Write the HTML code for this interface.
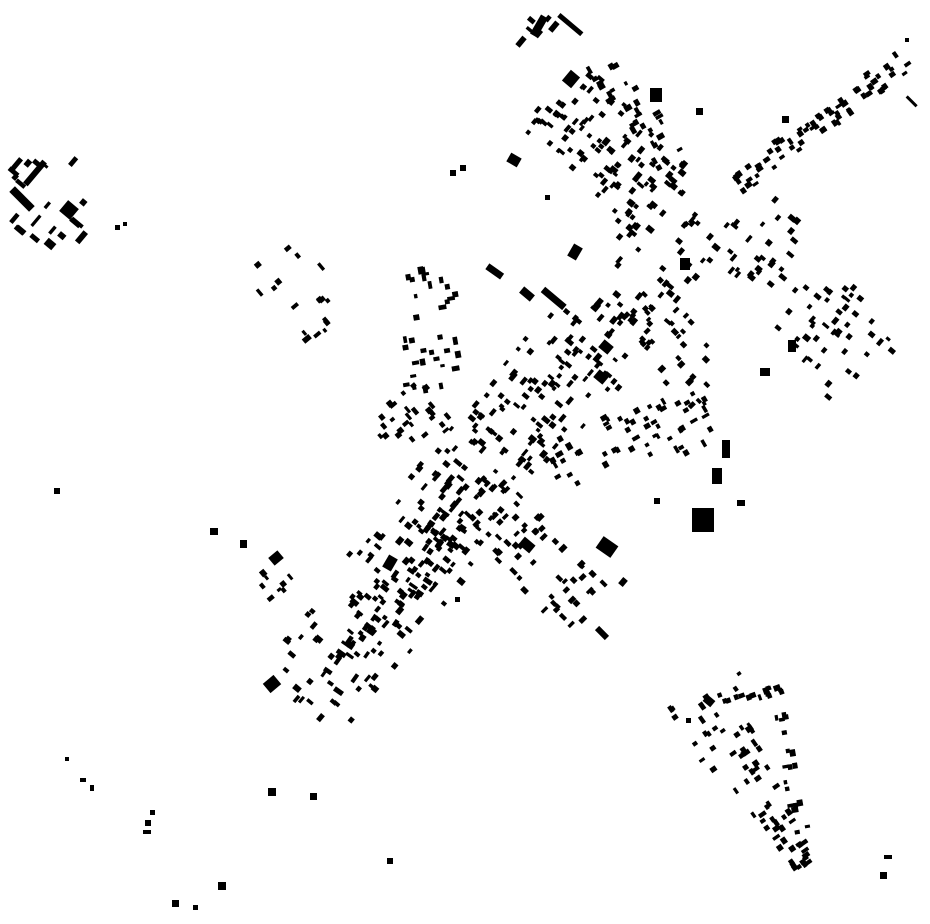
<!DOCTYPE html>
<html><head><meta charset="utf-8"><style>
html,body{margin:0;padding:0;background:#fff;}
svg{display:block;}
</style></head><body>
<svg id="s" width="930" height="924" viewBox="0 0 930 924" xmlns="http://www.w3.org/2000/svg">
<g fill="#000">
<rect x="535" y="15" width="8" height="22" transform="rotate(30 539 26)"/>
<rect x="555" y="22" width="30" height="5" transform="rotate(40 570 25)"/>
<rect x="565" y="72" width="12" height="14" transform="rotate(40 571 79)"/>
<rect x="650" y="88" width="12" height="14"/>
<rect x="8" y="195" width="28" height="8" transform="rotate(45 22 199)"/>
<rect x="20" y="170" width="30" height="6" transform="rotate(-50 35 173)"/>
<rect x="62" y="203" width="14" height="14" transform="rotate(40 69 210)"/>
<rect x="45" y="240" width="10" height="8" transform="rotate(40 50 244)"/>
<rect x="570" y="245" width="10" height="14" transform="rotate(30 575 252)"/>
<rect x="540" y="295" width="28" height="7" transform="rotate(40 554 298)"/>
<rect x="520" y="290" width="14" height="8" transform="rotate(40 527 294)"/>
<rect x="486" y="268" width="18" height="7" transform="rotate(35 495 271)"/>
<rect x="595" y="372" width="12" height="10" transform="rotate(40 601 377)"/>
<rect x="600" y="342" width="12" height="10" transform="rotate(40 606 347)"/>
<rect x="680" y="258" width="10" height="12"/>
<rect x="692" y="508" width="22" height="24"/>
<rect x="712" y="468" width="10" height="16"/>
<rect x="722" y="440" width="8" height="18"/>
<rect x="598" y="540" width="18" height="14" transform="rotate(35 607 547)"/>
<rect x="520" y="540" width="14" height="10" transform="rotate(40 527 545)"/>
<rect x="265" y="678" width="14" height="12" transform="rotate(-40 272 684)"/>
<rect x="270" y="553" width="12" height="10" transform="rotate(-40 276 558)"/>
<rect x="385" y="556" width="10" height="14" transform="rotate(30 390 563)"/>
<rect x="595" y="630" width="14" height="6" transform="rotate(45 602 633)"/>
<rect x="760" y="368" width="10" height="8"/>
<rect x="788" y="340" width="8" height="12"/>
<rect x="704" y="697" width="10" height="8" transform="rotate(40 709 701)"/>
<rect x="54" y="488" width="6" height="6"/>
<rect x="210" y="528" width="8" height="7"/>
<rect x="240" y="540" width="7" height="8"/>
<rect x="268" y="788" width="8" height="8"/>
<rect x="310" y="793" width="7" height="7"/>
<rect x="387" y="858" width="6" height="6"/>
<rect x="218" y="882" width="8" height="8"/>
<rect x="172" y="900" width="7" height="7"/>
<rect x="193" y="905" width="5" height="5"/>
<rect x="880" y="872" width="7" height="7"/>
<rect x="884" y="855" width="8" height="4"/>
<rect x="145" y="820" width="6" height="6"/>
<rect x="150" y="810" width="5" height="5"/>
<rect x="143" y="830" width="8" height="4"/>
<rect x="80" y="778" width="6" height="4"/>
<rect x="90" y="785" width="4" height="6"/>
<rect x="65" y="757" width="4" height="4"/>
<rect x="696" y="108" width="7" height="7"/>
<rect x="782" y="116" width="7" height="7"/>
<rect x="905" y="38" width="4" height="4"/>
<rect x="905" y="100" width="14" height="3" transform="rotate(45 912 101)"/>
<rect x="654" y="498" width="6" height="6"/>
<rect x="737" y="500" width="8" height="6"/>
<rect x="620" y="578" width="6" height="8" transform="rotate(40 623 582)"/>
<rect x="115" y="225" width="5" height="5"/>
<rect x="123" y="222" width="4" height="4"/>
<rect x="508" y="155" width="12" height="10" transform="rotate(30 514 160)"/>
<rect x="450" y="170" width="6" height="6"/>
<rect x="460" y="165" width="6" height="6"/>
<rect x="545" y="195" width="5" height="5"/>
<rect x="455" y="597" width="5" height="5"/>
<rect x="686" y="718" width="5" height="5"/>
</g>
<g id="gen" fill="#000"></g>
</svg>
<script>
(function(){
var seed=12345;
function r(){seed=(seed*16807)%2147483647;return (seed-1)/2147483646;}
var g=document.getElementById('gen');var out='';
function line(x1,y1,x2,y2,n,spread,smin,smax,ang,taper){
 var dx=x2-x1,dy=y2-y1,L=Math.sqrt(dx*dx+dy*dy),px=-dy/L,py=dx/L;
 for(var i=0;i<n;i++){
  var t=r(),sp=spread*(taper?(1-t*0.8):1);
  var o=(r()*2-1)*sp;
  var x=x1+dx*t+px*o,y=y1+dy*t+py*o;
  var w=smin+r()*(smax-smin),h=3+r()*3;
  if(r()<0.5){var tmp=w;w=h;h=tmp;}
  var a=ang+(r()<0.3?90:0);
  out+='<rect x="'+(x-w/2).toFixed(1)+'" y="'+(y-h/2).toFixed(1)+'" width="'+w.toFixed(1)+'" height="'+h.toFixed(1)+'" transform="rotate('+a+' '+x.toFixed(1)+' '+y.toFixed(1)+')"/>';
 }
}
function box(x,y,w,h,n,smin,smax,ang){line(x,y+h/2,x+w,y+h/2,n,h/2,smin,smax,ang,false);}
line(300,705,700,195,200,55,4,8,-50);
line(370,630,610,290,130,35,4,9,-50);
line(330,690,460,510,45,18,4,11,-55);
line(560,95,660,200,90,42,4,8,40);
line(600,60,670,160,30,18,4,8,60);
line(520,130,560,100,10,10,4,8,40);
line(735,185,905,60,70,12,4,7,-35);
line(740,205,860,375,75,45,4,8,40);
line(470,490,590,615,65,32,4,8,45);
line(550,460,720,415,55,30,4,8,-30);
line(640,290,710,400,35,28,4,7,-45);
line(700,690,805,870,70,45,4,8,55,true);
line(720,700,785,688,14,6,4,7,-20);
line(775,690,805,840,20,8,4,7,80);
box(0,150,85,90,20,6,14,-50);
box(255,245,75,100,18,4,9,-40);
box(260,570,35,30,8,4,7,-40);
box(380,380,70,60,26,4,8,-40);
box(405,270,60,120,34,4,8,80);
box(520,15,70,30,6,5,12,40);
g.innerHTML=out;
})();
</script>
</body></html>
